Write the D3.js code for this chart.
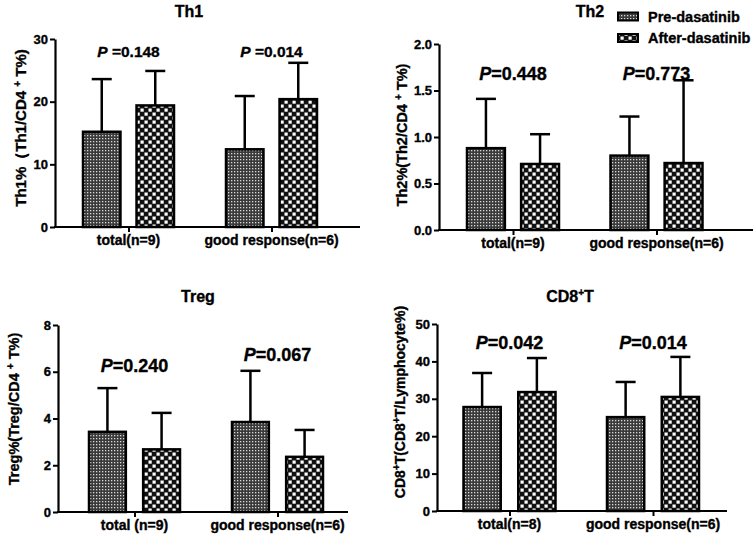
<!DOCTYPE html>
<html><head><meta charset="utf-8">
<script src="https://cdn.jsdelivr.net/npm/d3@7"></script>
<style>
html,body{margin:0;padding:0;background:#fff;}
text{font-family:"Liberation Sans",Arial,sans-serif;font-weight:bold;fill:#000;stroke:#000;stroke-width:0.35px;}
</style></head>
<body>
<svg id="c" width="755" height="542"></svg>
<script>
// ---------- DATA ----------
const series = ["Pre-dasatinib", "After-dasatinib"];
const th1Groups = ["total(n=9)", "good response(n=6)"];
const th1Pre = [15.2, 12.4];
const th1PreSD = [8.4, 8.5];
const th1After = [19.4, 20.4];
const th1AfterSD = [5.5, 5.8];
const th1P = ["0.148", "0.014"];
const th1Ticks = [0, 10, 20, 30];

const th2Groups = ["total(n=9)", "good response(n=6)"];
const th2Pre = [0.88, 0.80];
const th2PreSD = [0.53, 0.42];
const th2After = [0.71, 0.72];
const th2AfterSD = [0.32, 0.89];
const th2P = ["0.448", "0.773"];
const th2Ticks = [0, 0.5, 1.0, 1.5, 2.0];

const tregGroups = ["total (n=9)", "good response(n=6)"];
const tregPre = [3.43, 3.85];
const tregPreSD = [1.87, 2.19];
const tregAfter = [2.68, 2.36];
const tregAfterSD = [1.56, 1.15];
const tregP = ["0.240", "0.067"];
const tregTicks = [0, 2, 4, 6, 8];

const cd8Groups = ["total(n=8)", "good response(n=6)"];
const cd8Pre = [27.8, 25.1];
const cd8PreSD = [9.1, 9.4];
const cd8After = [31.8, 30.5];
const cd8AfterSD = [9.1, 10.7];
const cd8P = ["0.042", "0.014"];
const cd8Ticks = [0, 10, 20, 30, 40, 50];

// ---------- DRAW ----------
const svg = d3.select("#c");
const defs = svg.append("defs");
const p1 = defs.append("pattern").attr("id","patPre").attr("patternUnits","userSpaceOnUse")
  .attr("width",3).attr("height",3);
p1.append("rect").attr("width",3).attr("height",3).attr("fill","#3a3a3a");
p1.append("rect").attr("x",0).attr("y",0).attr("width",1.3).attr("height",1.3).attr("fill","#d8d8d8");
const p2 = defs.append("pattern").attr("id","patAfter").attr("patternUnits","userSpaceOnUse")
  .attr("width",8).attr("height",8);
p2.append("rect").attr("width",8).attr("height",8).attr("fill","#111");
p2.append("rect").attr("x",0.5).attr("y",0.5).attr("width",3.2).attr("height",3.2).attr("fill","#fff");
p2.append("rect").attr("x",4.5).attr("y",4.5).attr("width",3.2).attr("height",3.2).attr("fill","#fff");
const fills = ["url(#patPre)", "url(#patAfter)"];

function panel(cfg) {
  const g = svg.append("g");
  const y = d3.scaleLinear().domain([cfg.ticks[0], cfg.ticks[cfg.ticks.length-1]]).range([cfg.y0, cfg.yTop]);
  const x = d3.scalePoint().domain(cfg.groups).range(cfg.centers);
  const xs = d3.scaleBand().domain(series).range([-cfg.inner/2, cfg.inner/2]).paddingInner(cfg.pad);

  const ya = g.append("g").attr("transform", `translate(${cfg.ax},0)`)
    .call(d3.axisLeft(y).tickValues(cfg.ticks).tickFormat(cfg.fmt).tickSize(5).tickSizeOuter(0));
  ya.select(".domain").attr("stroke-width",2.2);
  ya.selectAll(".tick line").attr("stroke-width",2);
  ya.selectAll(".tick text").attr("font-size",13).attr("x",-7).attr("font-family","Liberation Sans, Arial").attr("font-weight","bold");

  const xa = g.append("g").attr("transform", `translate(0,${cfg.y0})`)
    .call(d3.axisBottom(x).tickSize(5).tickSizeOuter(0).tickFormat(""));
  xa.select(".domain").remove();
  xa.selectAll(".tick line").attr("stroke-width",2);
  g.append("line").attr("x1",cfg.ax-1).attr("x2",cfg.xEnd).attr("y1",cfg.y0).attr("y2",cfg.y0)
    .attr("stroke","#000").attr("stroke-width",2.2);
  g.selectAll(".xl").data(cfg.groups).enter().append("text")
    .attr("x", d => x(d)).attr("y", cfg.y0 + 18).attr("text-anchor","middle")
    .attr("font-size",14).text(d => d);

  const vals = [cfg.pre, cfg.after], sds = [cfg.preSD, cfg.afterSD];
  cfg.groups.forEach((grp, i) => {
    series.forEach((s, k) => {
      const bx = x(grp) + xs(s), bw = xs.bandwidth(), cx = bx + bw/2;
      const v = vals[k][i], e = v + sds[k][i];
      g.append("line").attr("x1",cx).attr("x2",cx).attr("y1",y(v)).attr("y2",y(e))
        .attr("stroke","#000").attr("stroke-width",2.5);
      g.append("line").attr("x1",cx-10).attr("x2",cx+10).attr("y1",y(e)).attr("y2",y(e))
        .attr("stroke","#000").attr("stroke-width",2.5);
      g.append("rect").attr("x",bx).attr("y",y(v)).attr("width",bw).attr("height",cfg.y0 - y(v))
        .attr("fill",fills[k]).attr("stroke","#000").attr("stroke-width",2.5);
    });
    const t = g.append("text").attr("x", x(grp)).attr("y", cfg.pY[i]).attr("text-anchor","middle")
      .attr("font-size", cfg.pSize);
    t.append("tspan").attr("font-style","italic").text("P");
    t.append("tspan").text(cfg.pSpace + "=" + cfg.p[i]);
  });

  const tt = g.append("text").attr("x",cfg.title[0]).attr("y",cfg.title[1]).attr("text-anchor","middle").attr("font-size",16);
  cfg.titleParts.forEach(pt => {
    const sp = tt.append("tspan").text(pt[0]);
    if (pt[1]) sp.attr("font-size",10).attr("dy",-6);
    else if (pt[2]) sp.attr("dy",6);
  });

  const yl = g.append("text").attr("transform",`translate(${cfg.yl[0]},${cfg.yl[1]}) rotate(-90)`)
    .attr("text-anchor","middle").attr("font-size",cfg.ylSize);
  cfg.ylParts.forEach(pt => {
    const sp = yl.append("tspan").text(pt[0]);
    if (pt[1]) sp.attr("font-size",10).attr("dy",-5);
    else if (pt[2]) sp.attr("dy",5);
  });
}

const f1 = d => d3.format("d")(d), f2 = d => d3.format(".1f")(d);

panel({groups: th1Groups, pre: th1Pre, preSD: th1PreSD, after: th1After, afterSD: th1AfterSD, p: th1P, ticks: th1Ticks, fmt: f1,
  ax: 55, yTop: 39, y0: 227, xEnd: 360, centers: [128.5, 271.5], inner: 91, pad: 0.3,
  pY: [57, 57], pSize: 15.5, pSpace: " ", title: [189, 17], titleParts: [["Th1"]],
  yl: [26, 128], ylSize: 15, ylParts: [["Th1%（Th1/CD4 "],["+",1],[" T%)",0,1]]});

panel({groups: th2Groups, pre: th2Pre, preSD: th2PreSD, after: th2After, afterSD: th2AfterSD, p: th2P, ticks: th2Ticks, fmt: f2,
  ax: 439, yTop: 44, y0: 230, xEnd: 753, centers: [513, 656.5], inner: 92, pad: 0.3,
  pY: [80, 80], pSize: 18, pSpace: "", title: [590, 17], titleParts: [["Th2"]],
  yl: [407, 135], ylSize: 14.5, ylParts: [["Th2%(Th2/CD4 "],["+",1],[" T%)",0,1]]});

panel({groups: tregGroups, pre: tregPre, preSD: tregPreSD, after: tregAfter, afterSD: tregAfterSD, p: tregP, ticks: tregTicks, fmt: f1,
  ax: 58, yTop: 325, y0: 512, xEnd: 348, centers: [134.5, 277.5], inner: 91, pad: 0.32,
  pY: [372, 361], pSize: 18, pSpace: "", title: [198, 302], titleParts: [["Treg"]],
  yl: [19, 409], ylSize: 14.5, ylParts: [["Treg%(Treg/CD4 "],["+",1],[" T%)",0,1]]});

panel({groups: cd8Groups, pre: cd8Pre, preSD: cd8PreSD, after: cd8After, afterSD: cd8AfterSD, p: cd8P, ticks: cd8Ticks, fmt: f1,
  ax: 437, yTop: 324, y0: 511, xEnd: 727, centers: [509.5, 653], inner: 92, pad: 0.32,
  pY: [349, 349], pSize: 18, pSpace: "", title: [570, 302], titleParts: [["CD8"],["+",1],["T",0,1]],
  yl: [405, 402], ylSize: 14, ylParts: [["CD8"],["+",1],["T(CD8",0,1],["+",1],["T/Lymphocyte%)",0,1]]});

const lg = svg.append("g");
series.forEach((s, k) => {
  const yy = [16.5, 38][k];
  lg.append("rect").attr("x",618).attr("y",yy-4).attr("width",20).attr("height",8)
    .attr("fill",fills[k]).attr("stroke","#000").attr("stroke-width",2);
  lg.append("text").attr("x",648).attr("y",yy+5).attr("font-size",14.5).text(s);
});
</script>
</body></html>
